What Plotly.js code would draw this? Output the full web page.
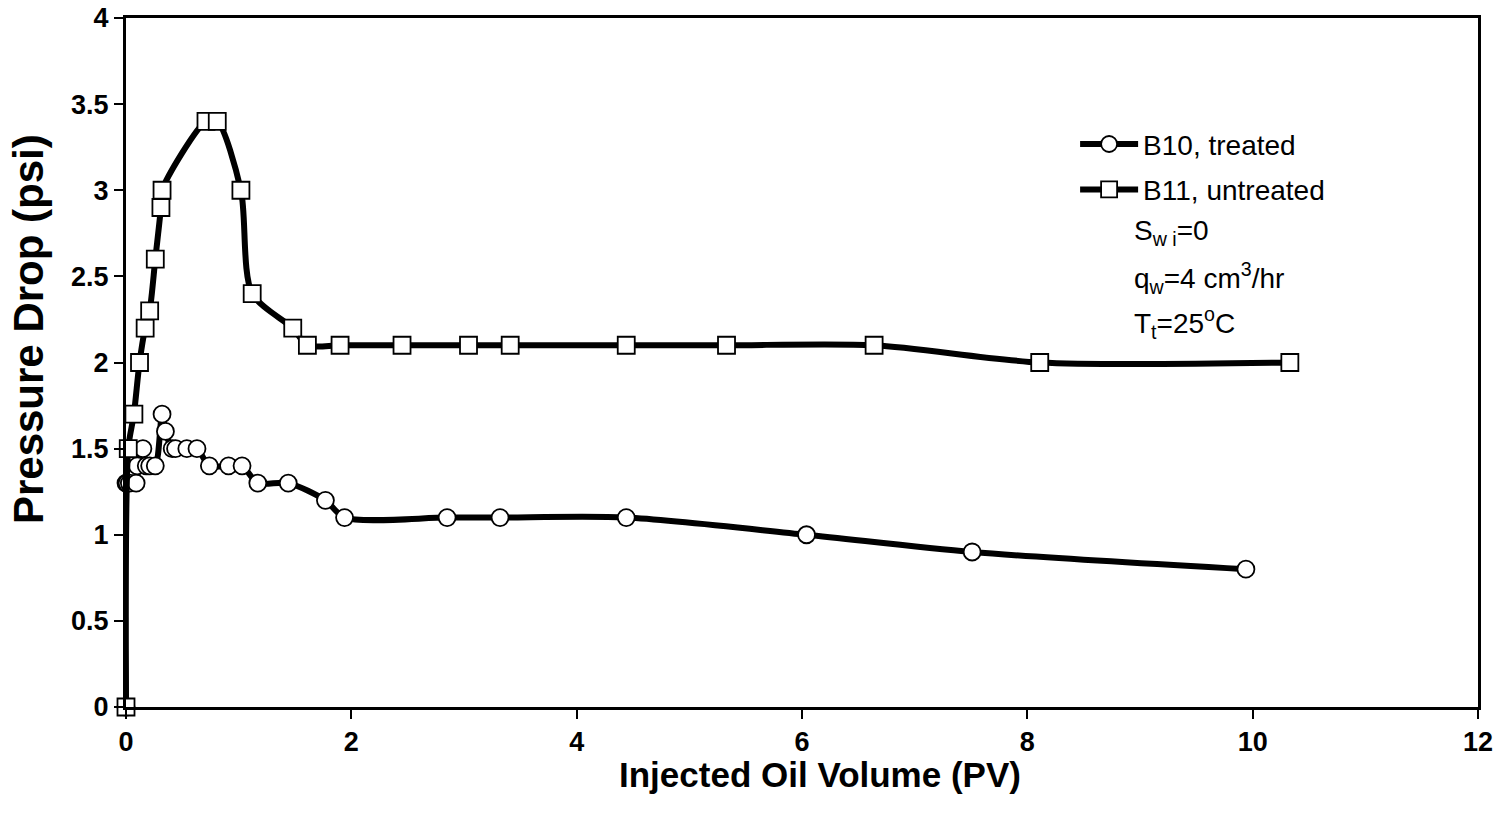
<!DOCTYPE html>
<html>
<head>
<meta charset="utf-8">
<script src="https://cdn.plot.ly/plotly-3.0.1.min.js"></script>
<style>html,body{margin:0;padding:0;background:#fff;}#chart{width:1502px;height:813px;}</style>
</head>
<body>
<div id="chart"></div>
<script>
// B10, treated (circles)
const b10X = [0, 0, 0.01, 0.03, 0.09, 0.10, 0.15, 0.18, 0.21, 0.26, 0.32, 0.35, 0.41, 0.44, 0.54, 0.63, 0.74, 0.91, 1.03, 1.17, 1.44, 1.77, 1.94, 2.85, 3.32, 4.44, 6.04, 7.51, 9.94];
const b10Y = [0, 1.3, 1.3, 1.3, 1.3, 1.4, 1.5, 1.4, 1.4, 1.4, 1.7, 1.6, 1.5, 1.5, 1.5, 1.5, 1.4, 1.4, 1.4, 1.3, 1.3, 1.2, 1.1, 1.1, 1.1, 1.1, 1.0, 0.9, 0.8];
// B11, untreated (squares)
const b11X = [0, 0.02, 0.07, 0.12, 0.17, 0.21, 0.26, 0.31, 0.32, 0.71, 0.81, 1.02, 1.12, 1.48, 1.61, 1.90, 2.45, 3.04, 3.41, 4.44, 5.33, 6.64, 8.11, 10.33];
const b11Y = [0, 1.5, 1.7, 2.0, 2.2, 2.3, 2.6, 2.9, 3.0, 3.4, 3.4, 3.0, 2.4, 2.2, 2.1, 2.1, 2.1, 2.1, 2.1, 2.1, 2.1, 2.1, 2.0, 2.0];

const seriesNames = ["B10, treated", "B11, untreated"];
const xTitle = "Injected Oil Volume (PV)";
const yTitle = "Pressure Drop (psi)";
const noteTexts = ["S<sub>w i</sub>=0", "q<sub>w</sub>=4 cm<sup>3</sup>/hr", "T<sub>t</sub>=25<sup>o</sup>C"];

const FONT = "Liberation Sans, Arial, sans-serif";

const traces = [
  {
    x: b10X, y: b10Y, name: seriesNames[0], type: "scatter", mode: "lines+markers",
    legendgroup: "a", cliponaxis: false,
    line: {color: "#000", width: 6, shape: "spline", smoothing: 0.8},
    marker: {symbol: "circle", size: 17, color: "#fff", line: {color: "#000", width: 1.8}}
  },
  {
    x: b11X, y: b11Y, name: seriesNames[1], type: "scatter", mode: "lines+markers",
    legendgroup: "b", cliponaxis: false,
    line: {color: "#000", width: 6, shape: "spline", smoothing: 0.8},
    marker: {symbol: "square", size: 17, color: "#fff", line: {color: "#000", width: 1.8}}
  }
];

const axisCommon = {
  showgrid: false, zeroline: false, showline: true, linecolor: "#000", linewidth: 3,
  mirror: true, ticks: "outside", ticklen: 9, tickwidth: 2, tickcolor: "#000",
  tickfont: {family: FONT, size: 27, color: "#000", weight: "bold"}
};

const ann = noteTexts.map((t, i) => ({
  xref: "paper", yref: "paper", x: 0.744, y: 0.688 - i * 0.0653,
  xanchor: "left", yanchor: "middle", showarrow: false, text: t,
  font: {family: FONT, size: 28, color: "#000"}
}));
ann.push({
  xref: "paper", yref: "paper", x: -0.072, y: 0.548,
  xanchor: "center", yanchor: "middle", showarrow: false, textangle: -90,
  text: "<b>" + yTitle + "</b>",
  font: {family: FONT, size: 42, color: "#000"}
});
ann.push({
  xref: "paper", yref: "paper", x: 0.5135, y: -0.098,
  xanchor: "center", yanchor: "middle", showarrow: false,
  text: "<b>" + xTitle + "</b>",
  font: {family: FONT, size: 35, color: "#000"}
});

const layout = {
  width: 1502, height: 813,
  margin: {l: 126, r: 24, t: 18, b: 106},
  paper_bgcolor: "#fff", plot_bgcolor: "#fff",
  showlegend: true,
  legend: {
    x: 0.702, y: 0.853, xanchor: "left", yanchor: "top",
    bgcolor: "rgba(0,0,0,0)", borderwidth: 0,
    font: {family: FONT, size: 28, color: "#000"},
    tracegroupgap: 6, itemwidth: 58
  },
  xaxis: Object.assign({}, axisCommon, {
    range: [0, 12], dtick: 2, tick0: 0
  }),
  yaxis: Object.assign({}, axisCommon, {
    range: [0, 4], dtick: 0.5, tick0: 0
  }),
  annotations: ann
};

Plotly.newPlot("chart", traces, layout, {displayModeBar: false, staticPlot: true});
</script>
</body>
</html>
